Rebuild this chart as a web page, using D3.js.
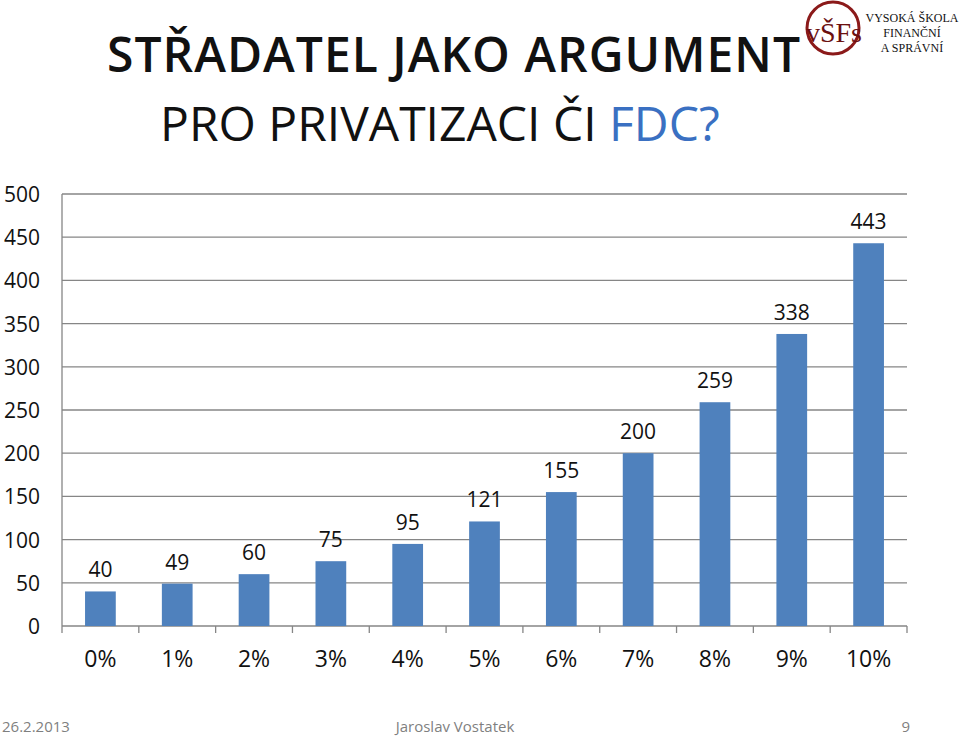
<!DOCTYPE html>
<html><head><meta charset="utf-8">
<script src="https://cdn.jsdelivr.net/npm/d3@7"></script>
<style>body{margin:0;background:#fff}svg{display:block}text{font-family:"Liberation Sans Narrow","Open Sans",sans-serif}</style>
</head><body><svg id="chart" width="960" height="737"></svg>
<script>
var categories = ['0%', '1%', '2%', '3%', '4%', '5%', '6%', '7%', '8%', '9%', '10%'];
var values = [40, 49, 60, 75, 95, 121, 155, 200, 259, 338, 443];
var yTicks = [0, 50, 100, 150, 200, 250, 300, 350, 400, 450, 500];

var svg = d3.select('#chart');
var pLeft = 62, pRight = 907, pTop = 194, pBottom = 626;

var x = d3.scaleBand().domain(categories).range([pLeft, pRight]).paddingInner(0.6).paddingOuter(0.3);
var xb = d3.scaleBand().domain(categories).range([pLeft, pRight]);
var y = d3.scaleLinear().domain([0, 500]).range([pBottom, pTop]);

// title
var t = svg.append('g').attr('fill', '#111').style('font-size', '48px');
t.append('text').attr('x', 107).attr('y', 72).style('font-weight', '600').attr('textLength', 693).text('STŘADATEL JAKO ARGUMENT');
var t2 = t.append('text').attr('x', 160).attr('y', 141);
t2.append('tspan').text('PRO PRIVATIZACI ČI ');
t2.append('tspan').attr('fill', '#3a70c2').text('FDC?');

// logo
var logo = svg.append('g');
logo.append('circle').attr('cx', 833).attr('cy', 28).attr('r', 26).attr('fill', '#fff').attr('stroke', '#8b1a1a').attr('stroke-width', 3);
logo.append('text').attr('x', 834).attr('y', 42).attr('text-anchor', 'middle').attr('fill', '#6b1010')
  .style('font-family', 'Liberation Serif').style('font-size', '28px').text('vŠFs');
logo.selectAll('text.l').data(['VYSOKÁ ŠKOLA', 'FINANČNÍ', 'A SPRÁVNÍ']).enter().append('text')
  .attr('x', 912).attr('y', function (d, i) { return 22 + i * 15; }).attr('text-anchor', 'middle')
  .style('font-family', 'Liberation Serif').style('font-size', '12px').attr('fill', '#111').text(function (d) { return d; });

// grid
svg.append('g').selectAll('line').data(yTicks.slice(1)).enter().append('line')
  .attr('x1', pLeft).attr('x2', pRight).attr('y1', function (d) { return y(d); }).attr('y2', function (d) { return y(d); })
  .attr('stroke', '#868686').attr('stroke-width', 1.3);

// y labels
svg.append('g').selectAll('text').data(yTicks).enter().append('text')
  .attr('x', 40).attr('y', function (d) { return y(d) + 8; }).attr('text-anchor', 'end')
  .style('font-size', '21px').attr('fill', '#111').text(function (d) { return d; });

// axes
svg.append('line').attr('x1', pLeft).attr('x2', pLeft).attr('y1', pTop).attr('y2', pBottom).attr('stroke', '#868686').attr('stroke-width', 1.3);
svg.append('line').attr('x1', pLeft).attr('x2', pRight).attr('y1', pBottom).attr('y2', pBottom).attr('stroke', '#868686').attr('stroke-width', 1.3);
svg.append('g').selectAll('line').data(categories.concat(['end'])).enter().append('line')
  .attr('x1', function (d, i) { return pLeft + i * xb.step(); }).attr('x2', function (d, i) { return pLeft + i * xb.step(); })
  .attr('y1', pBottom).attr('y2', pBottom + 7).attr('stroke', '#868686').attr('stroke-width', 1.3);

// bars
svg.append('g').selectAll('rect').data(values).enter().append('rect')
  .attr('x', function (d, i) { return x(categories[i]); }).attr('width', x.bandwidth())
  .attr('y', function (d) { return y(d); }).attr('height', function (d) { return pBottom - y(d); })
  .attr('fill', '#4f81bd');

// value labels
svg.append('g').selectAll('text').data(values).enter().append('text')
  .attr('x', function (d, i) { return x(categories[i]) + x.bandwidth() / 2; })
  .attr('y', function (d) { return y(d) - 14; }).attr('text-anchor', 'middle')
  .style('font-size', '21px').attr('fill', '#111').text(function (d) { return d; });

// x labels
svg.append('g').selectAll('text').data(categories).enter().append('text')
  .attr('x', function (d) { return xb(d) + xb.bandwidth() / 2; }).attr('y', 667).attr('text-anchor', 'middle')
  .style('font-size', '23px').attr('fill', '#111').text(function (d) { return d; });

// footer
var f = svg.append('g').style('font-size', '15px').attr('fill', '#7f7f7f');
f.append('text').attr('x', 2).attr('y', 732).text('26.2.2013');
f.append('text').attr('x', 455).attr('y', 732).attr('text-anchor', 'middle').text('Jaroslav Vostatek');
f.append('text').attr('x', 910).attr('y', 732).attr('text-anchor', 'end').text('9');
</script></body></html>
